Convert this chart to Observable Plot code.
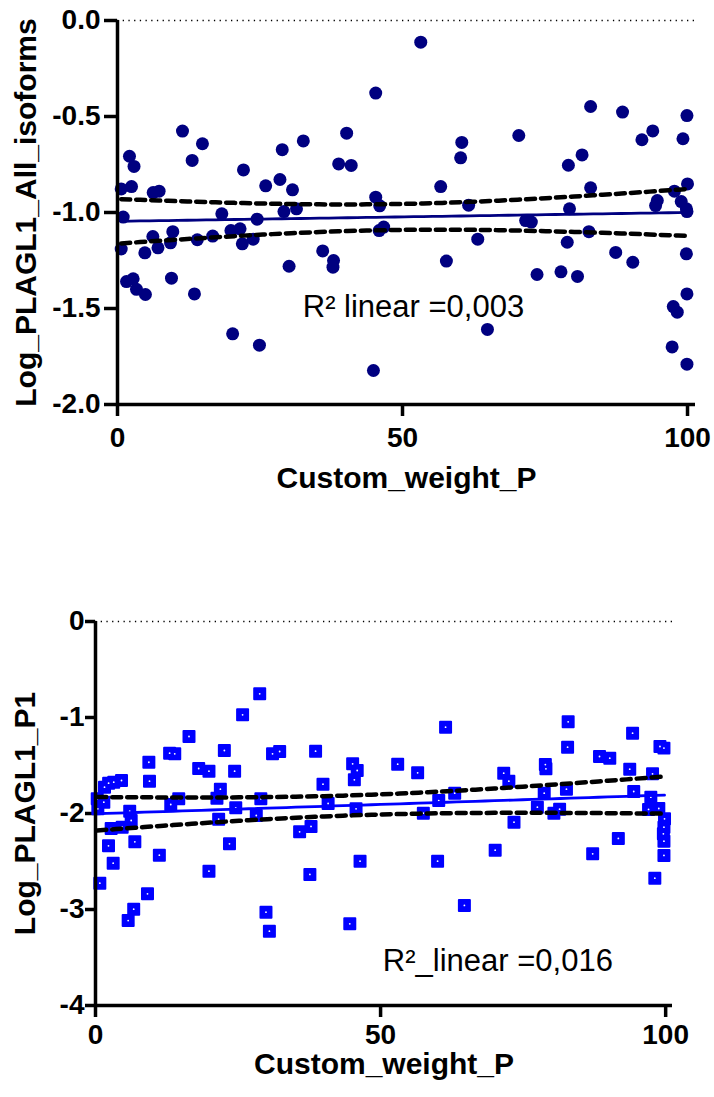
<!DOCTYPE html>
<html><head><meta charset="utf-8">
<script src="https://cdn.jsdelivr.net/npm/d3@7"></script>
<script src="https://cdn.jsdelivr.net/npm/@observablehq/plot@0.6"></script>
<style>
body{margin:0;background:#fff;}
#wrap{width:714px;height:1097px;position:relative;overflow:hidden;background:#fff}
svg{display:block}
svg [aria-label*="axis"] line, svg [aria-label*="axis tick"] path{stroke-width:3.5px;stroke:#000}
</style></head><body><div id="wrap"></div>
<script>
// ---------- data ----------
const xTicks = [0, 50, 100];
const topYTicks = [-2, -1.5, -1, -0.5, 0];
const botYTicks = [-4, -3, -2, -1, 0];
const xTitle = "Custom_weight_P";
const topYTitle = "Log_PLAGL1_All_isoforms";
const botYTitle = "Log_PLAGL1_P1";
const topAnnot = [{x: 32.5, y: -1.495, label: "R² linear =0,003"}];
const botAnnot = [{x: 50.4, y: -3.54, label: "R²_linear =0,016"}];
const topYTitlePos = [{x: -15.96, y: -1}];
const botYTitlePos = [{x: -12.3, y: -2}];

// [Custom_weight_P, Log_PLAGL1_All_isoforms]
const topPoints = [
[0.65,-0.877],[1.0,-1.024],[0.65,-1.19],[2.1,-0.707],[2.46,-0.865],[2.9,-0.76],[1.58,-1.36],[2.75,-1.345],
[3.33,-1.40],[4.9,-1.427],[4.8,-1.21],[6.2,-1.125],[7.1,-1.184],[6.26,-0.896],[7.3,-0.889],[9.3,-1.158],
[9.7,-1.10],[9.47,-1.342],[11.4,-0.576],[13.1,-0.729],[14.9,-0.642],[13.5,-1.424],[14.0,-1.142],[16.7,-1.123],
[18.3,-1.007],[20.2,-1.632],[19.9,-1.094],[21.5,-1.085],[21.9,-1.163],[22.1,-0.778],[23.8,-1.139],[24.5,-1.035],
[24.9,-1.691],[26.0,-0.861],[28.5,-0.828],[28.9,-0.673],[29.2,-0.995],[30.7,-0.882],[31.4,-0.981],[30.1,-1.28],
[32.6,-0.627],[36.0,-1.20],[37.9,-1.25],[37.8,-1.285],[38.8,-0.747],[41.0,-0.755],[40.2,-0.587],[45.3,-0.378],
[45.3,-0.92],[46.0,-0.965],[45.9,-1.094],[46.7,-1.076],[44.9,-1.823],
[53.2,-0.113],[56.7,-0.865],[57.7,-1.253],[61.6,-0.962],[60.4,-0.635],[60.2,-0.715],[63.2,-1.139],[64.9,-1.609],
[70.4,-0.599],[71.6,-1.042],[72.6,-1.05],[73.6,-1.323],[77.8,-1.309],[78.9,-1.155],[79.3,-0.981],[79.1,-0.754],
[80.7,-1.333],[81.5,-0.70],[83.0,-0.448],[83.0,-0.871],[82.7,-1.10],[87.4,-1.208],[88.6,-0.477],[90.4,-1.259],
[92.0,-0.621],[93.9,-0.575],[94.7,-0.9375],[94.4,-0.964],[97.7,-0.889],[98.9,-0.943],[99.9,-0.495],[99.2,-0.616],
[100,-0.851],[99.8,-0.981],[99.9,-0.995],[99.8,-1.215],[99.9,-1.424],[97.5,-1.49],[98.2,-1.519],[97.3,-1.70],
[99.9,-1.79]
];

// [Custom_weight_P, Log_PLAGL1_P1]
const botPoints = [
[0.76,-2.726],[0.41,-1.951],[0.3,-1.847],[1.46,-1.882],[1.58,-1.726],[2.3,-1.684],[2.75,-2.156],[2.28,-2.337],
[3.1,-2.517],[3.2,-1.674],[4.56,-1.656],[4.68,-2.142],[6.0,-1.976],[6.26,-2.073],[5.73,-3.115],[6.7,-2.997],
[6.9,-2.295],[9.12,-2.837],[9.47,-1.663],[9.36,-1.466],[11.2,-2.434],[13.0,-1.372],[13.9,-1.378],[13.2,-1.906],
[14.6,-1.847],[16.4,-1.198],[18.1,-1.531],[19.9,-1.559],[19.9,-2.601],[21.3,-1.84],[21.9,-1.747],[21.6,-2.059],
[22.6,-1.344],[23.5,-2.316],[24.4,-1.559],[24.6,-1.941],[25.8,-0.972],[28.8,-0.753],[28.2,-2.021],[29.0,-1.847],
[29.9,-3.028],[30.5,-3.226],[31.05,-1.378],[32.3,-1.354],[35.8,-2.191],[37.8,-2.135],[37.6,-2.635],[38.6,-1.351],
[39.9,-1.695],[40.8,-1.896],[44.6,-3.149],[45.1,-1.483],[45.9,-1.552],[45.4,-1.649],[45.7,-1.951],[46.4,-2.497],
[53.0,-1.486],[56.5,-1.576],[57.5,-1.997],[60.0,-2.497],[60.2,-1.865],[61.4,-1.101],[63.0,-1.788],[64.7,-2.958],
[70.1,-2.382],[71.6,-1.58],[72.5,-1.663],[73.4,-2.09],[77.5,-1.934],[78.7,-1.788],[78.9,-1.49],[79.0,-1.535],
[80.4,-1.997],[81.4,-1.955],[82.6,-1.747],[82.9,-1.045],[82.8,-1.309],[87.2,-2.42],[88.4,-1.406],[90.2,-1.424],
[91.7,-2.26],[93.7,-1.538],[94.2,-1.163],[94.4,-1.771],[97.7,-1.587],[97.4,-1.83],[97.0,-1.958],[98.1,-2.674],
[99.0,-1.302],[99.7,-1.319],[98.8,-1.948],[99.8,-2.055],[99.7,-2.142],[99.6,-2.212],[99.7,-2.288],[99.7,-2.437]
];

// ---------- linear regression with 95% confidence band ----------
const T95 = 1.987;
function regression(pts) {
  const n = pts.length;
  const mx = d3.mean(pts, d => d[0]), my = d3.mean(pts, d => d[1]);
  const sxx = d3.sum(pts, d => (d[0] - mx) ** 2);
  const sxy = d3.sum(pts, d => (d[0] - mx) * (d[1] - my));
  const b = sxy / sxx, a = my - b * mx;
  const s = Math.sqrt(d3.sum(pts, d => (d[1] - a - b * d[0]) ** 2) / (n - 2));
  const [x0, x1] = d3.extent(pts, d => d[0]);
  return d3.range(0, 61).map(i => {
    const x = x0 + (x1 - x0) * i / 60;
    const yh = a + b * x;
    const se = s * Math.sqrt(1 / n + (x - mx) ** 2 / sxx);
    return {x, y: yh, lo: yh - T95 * se, hi: yh + T95 * se};
  });
}

const FONT = "'Liberation Sans', Arial, Helvetica, sans-serif";
const baseStyle = {fontFamily: FONT, fontSize: "28px", fontWeight: "bold", color: "#000", background: "#fff", overflow: "visible"};

function panel(cfg) {
  const fit = regression(cfg.points);
  return Plot.plot({
    width: 714, height: cfg.height,
    marginLeft: cfg.ml, marginRight: cfg.mr, marginTop: cfg.mt, marginBottom: cfg.mb,
    style: baseStyle,
    x: {domain: cfg.xDomain, ticks: xTicks, tickSize: 12, tickPadding: cfg.xPad, label: null, tickFormat: d => String(d)},
    y: {domain: cfg.yDomain, ticks: cfg.yTicks, tickSize: cfg.yTickSize, tickPadding: cfg.yPad, label: null, tickFormat: cfg.yFmt},
    marks: [
      Plot.ruleY([0], {stroke: "#000", strokeWidth: 1.3, strokeDasharray: "1.3,4.4"}),
      Plot.dot(cfg.points, {x: d => d[0], y: d => d[1], ...cfg.dotOpts}),
      ...(cfg.inner ? [Plot.dot(cfg.points, {x: d => d[0], y: d => d[1], r: 0.9, fill: "#fff"})] : []),
      Plot.line(fit, {x: "x", y: "hi", stroke: "#000", strokeWidth: 4.5, strokeDasharray: "9,6", strokeLinecap: "round"}),
      Plot.line(fit, {x: "x", y: "lo", stroke: "#000", strokeWidth: 4.5, strokeDasharray: "9,6", strokeLinecap: "round"}),
      Plot.line(fit, {x: "x", y: "y", stroke: cfg.color, strokeWidth: 2.8}),
      Plot.ruleX([0], {stroke: "#000", strokeWidth: 3.5}),
      Plot.ruleY([cfg.yDomain[0]], {stroke: "#000", strokeWidth: 3.5}),
      Plot.text(cfg.annot, {x: "x", y: "y", text: "label", textAnchor: "start", lineAnchor: "middle", fontSize: 31, fontWeight: "normal", fill: "#000"}),
      Plot.text([xTitle], {frameAnchor: "bottom", dy: cfg.xTitleDy, lineAnchor: "middle", fontSize: 30, fontWeight: "bold", fill: "#000"}),
      Plot.text(cfg.yTitlePos, {x: "x", y: "y", text: () => cfg.yTitle, rotate: -90, textAnchor: "middle", lineAnchor: "middle", fontSize: 30, fontWeight: "bold", fill: "#000"})
    ]
  });
}

const wrap = document.getElementById("wrap");
wrap.append(panel({
  points: topPoints, height: 530, ml: 117, mr: 19, mt: 20, mb: 126,
  xDomain: [0, 101.4], yDomain: [-2, 0], yTicks: topYTicks, yTickSize: 13, yPad: 4, xPad: 11,
  yFmt: d => d.toFixed(1),
  dotOpts: {r: 6.5, fill: "#000080"}, color: "#000080", inner: false,
  annot: topAnnot, xTitleDy: 74, yTitle: topYTitle, yTitlePos: topYTitlePos
}));
wrap.append(panel({
  points: botPoints, height: 567, ml: 95, mr: 42, mt: 91, mb: 92,
  xDomain: [0, 101.2], yDomain: [-4, 0], yTicks: botYTicks, yTickSize: 10, yPad: 1, xPad: 7,
  yFmt: d => String(d),
  dotOpts: {symbol: "square", r: 6.2, fill: "#0000ff", stroke: "#0000ff", strokeWidth: 2, strokeLinejoin: "round"}, color: "#0000ff", inner: true,
  annot: botAnnot, xTitleDy: 59, yTitle: botYTitle, yTitlePos: botYTitlePos
}));
</script></body></html>
